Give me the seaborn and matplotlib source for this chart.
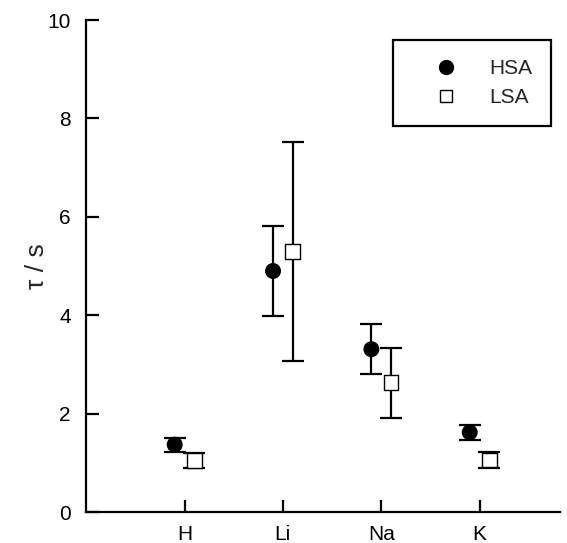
import pandas as pd
import seaborn as sns
import matplotlib.pyplot as plt
from matplotlib.lines import Line2D

# values
ions = ['H', 'Li', 'Na', 'K']
hsa_tau = [1.37, 4.90, 3.31, 1.62]
hsa_err = [0.14, 0.92, 0.51, 0.15]
lsa_tau = [1.05, 5.30, 2.63, 1.06]
lsa_err = [0.16, 2.22, 0.71, 0.16]
yticks = [0, 2, 4, 6, 8, 10]

dodge = 0.1
fontsz = 15

sns.set_theme(style="ticks")
plt.rcParams['font.family'] = ['Liberation Sans', 'DejaVu Sans']

rows = []
for i, ion in enumerate(ions):
    rows.append(dict(ion=ion, series='HSA', tau=hsa_tau[i], err=hsa_err[i], pos=i + 1 - dodge))
    rows.append(dict(ion=ion, series='LSA', tau=lsa_tau[i], err=lsa_err[i], pos=i + 1 + dodge))
df = pd.DataFrame(rows)

fig = plt.figure(figsize=(5.67, 5.43), dpi=100)
ax = fig.add_axes([0.152, 0.057, 0.836, 0.906])

# error bars first, markers on top
ax.errorbar(df['pos'], df['tau'], yerr=df['err'], fmt='none', ecolor='black',
            elinewidth=1.6, capsize=8, capthick=1.6, zorder=2)

sns.scatterplot(data=df, x='pos', y='tau', style='series', hue='series',
                markers={'HSA': 'o', 'LSA': 's'},
                palette={'HSA': 'black', 'LSA': 'white'},
                edgecolor='black', linewidth=1, s=110, legend=False, ax=ax, zorder=3)

ax.set_xlim(0, 4.82)
ax.set_ylim(0, 10)
ax.set_xticks(range(1, len(ions) + 1))
ax.set_xticklabels(ions)
ax.set_yticks(yticks)
ax.set_xlabel('')
ax.set_ylabel('τ / s', fontsize=19, labelpad=-1)
ax.tick_params(direction='in', length=9, width=1.6, labelsize=fontsz, colors='black')
ax.tick_params(axis='x', pad=9)
ax.tick_params(axis='y', pad=11)
sns.despine(ax=ax, top=True, right=True)
for sp in ['left', 'bottom']:
    ax.spines[sp].set_linewidth(1.6)
    ax.spines[sp].set_color('black')

handles = [
    Line2D([], [], ls='none', marker='o', markersize=10, markerfacecolor='black', markeredgecolor='black'),
    Line2D([], [], ls='none', marker='s', markersize=8.5, markerfacecolor='white', markeredgecolor='black', markeredgewidth=1),
]
leg = ax.legend(handles, ['HSA', 'LSA'], loc='upper right', bbox_to_anchor=(0.981, 0.959),
                borderaxespad=0, fontsize=fontsz, handlelength=3.3, handletextpad=0.45,
                labelspacing=0.5, borderpad=0.9, fancybox=False, framealpha=1)
leg.get_frame().set_edgecolor('black')
leg.get_frame().set_linewidth(1.6)

fig.savefig('out.png', dpi=100)
